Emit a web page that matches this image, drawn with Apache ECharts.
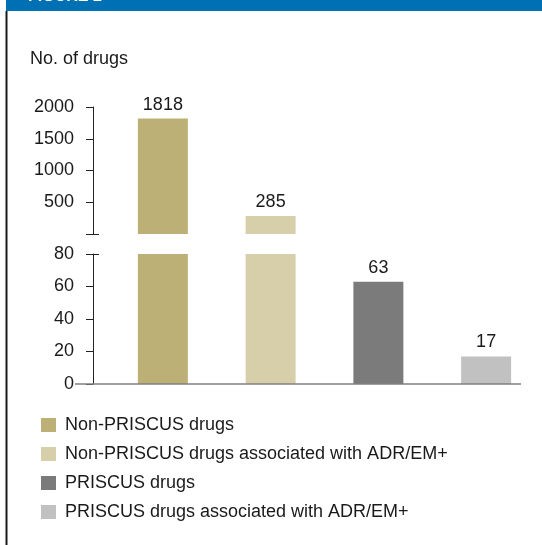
<!DOCTYPE html>
<html>
<head>
<meta charset="utf-8">
<script src="https://cdn.jsdelivr.net/npm/echarts@6/dist/echarts.min.js"></script>
<style>
  html, body { margin: 0; padding: 0; background: #fff; }
  #chart { width: 542px; height: 545px; }
</style>
</head>
<body>
<div id="chart"></div>
<script>
// categories and counts
var categories = [
    'Non-PRISCUS drugs',
    'Non-PRISCUS drugs associated with ADR/EM+',
    'PRISCUS drugs',
    'PRISCUS drugs associated with ADR/EM+'
];
var drugCounts = [1818, 285, 63, 17];

// broken y axis: upper part 0..2000, lower part 0..80
var upperRange = [0, 2000, 500];
var lowerRange = [0, 80, 20];

var barColors = ['#bdb077', '#d7cfaa', '#7b7b7b', '#c1c1c1'];
var fontName = '"Liberation Sans", Arial, sans-serif';

var chart = echarts.init(document.getElementById('chart'), null, { renderer: 'canvas' });

var axisText = { color: '#1a1a1a', fontSize: 18, fontFamily: fontName };

var makeYAxis = function (gridIndex, range, hideZero) {
    return {
        type: 'value',
        gridIndex: gridIndex,
        min: range[0],
        max: range[1],
        interval: range[2],
        offset: 16,
        axisLine: { show: true, lineStyle: { color: '#222', width: 1 } },
        axisTick: { show: true, length: 7, lineStyle: { color: '#222' } },
        splitLine: { show: false },
        axisLabel: {
            margin: 19,
            color: axisText.color,
            fontSize: axisText.fontSize,
            fontFamily: fontName,
            formatter: function (v) { return (hideZero && v === 0) ? '' : String(v); }
        }
    };
};

var series = [];
categories.forEach(function (name, i) {
    // upper panel only carries the bars that go past the break
    series.push({
        name: name,
        type: 'bar',
        xAxisIndex: 0,
        yAxisIndex: 0,
        barWidth: 50,
        barGap: '-100%',
        itemStyle: { color: barColors[i] },
        label: {
            show: true, position: 'top', distance: 5,
            color: axisText.color, fontSize: 18, fontFamily: fontName
        },
        data: drugCounts.map(function (v, j) {
            return (j === i && v > lowerRange[1]) ? v : '-';
        })
    });
    series.push({
        name: name,
        type: 'bar',
        xAxisIndex: 1,
        yAxisIndex: 1,
        barWidth: 50,
        barGap: '-100%',
        clip: true,
        itemStyle: { color: barColors[i] },
        label: {
            show: true, position: 'top', distance: 5,
            color: axisText.color, fontSize: 18, fontFamily: fontName,
            formatter: function (p) { return p.value <= lowerRange[1] ? String(p.value) : ''; }
        },
        data: drugCounts.map(function (v, j) { return j === i ? v : '-'; })
    });
});

var option = {
    animation: false,
    backgroundColor: '#fff',
    textStyle: { fontFamily: fontName },
    title: {
        text: 'No. of drugs',
        left: 30,
        top: 50,
        padding: 0,
        textStyle: { fontSize: 18, fontWeight: 'normal', color: '#1a1a1a', fontFamily: fontName }
    },
    legend: {
        orient: 'vertical',
        left: 41,
        top: 416,
        padding: 0,
        itemWidth: 15,
        itemHeight: 14,
        itemGap: 11,
        icon: 'rect',
        selectedMode: false,
        data: categories,
        textStyle: { fontSize: 18, color: '#1a1a1a', fontFamily: fontName, padding: [0, 0, 0, 4] }
    },
    grid: [
        { left: 109, right: 2, top: 107, height: 127 },
        { left: 109, right: 2, top: 254, height: 130 }
    ],
    xAxis: [
        { type: 'category', gridIndex: 0, data: categories, show: false },
        {
            type: 'category', gridIndex: 1, data: categories,
            axisLine: { show: false }, axisTick: { show: false }, axisLabel: { show: false }
        }
    ],
    yAxis: [makeYAxis(0, upperRange, true), makeYAxis(1, lowerRange, false)],
    series: series
};
chart.setOption(option);

// frame, header strip, break marks and the extended baseline
var baseY = chart.convertToPixel({ yAxisIndex: 1 }, 0);
var breakLow = chart.convertToPixel({ yAxisIndex: 0 }, upperRange[0]);
var breakHigh = chart.convertToPixel({ yAxisIndex: 1 }, lowerRange[1]);
var axisX = 109 - 16;
chart.setOption({
    graphic: [
        { type: 'rect', shape: { x: 6, y: 0, width: 536, height: 11 }, style: { fill: '#0070b4' } },
        { type: 'text', x: 28, y: 5, style: { text: 'FIGURE 2', fill: '#fff', font: 'bold 16px ' + fontName, verticalAlign: 'bottom' } },
        { type: 'rect', shape: { x: 5.5, y: 11, width: 2, height: 534 }, style: { fill: '#1a1a1a' } },
        { type: 'line', shape: { x1: axisX - 7, y1: breakLow + 0.5, x2: axisX + 6, y2: breakLow + 0.5 }, style: { stroke: '#222', lineWidth: 1 } },
        { type: 'line', shape: { x1: axisX - 7, y1: breakHigh + 0.5, x2: axisX + 6, y2: breakHigh + 0.5 }, style: { stroke: '#222', lineWidth: 1 } },
        { type: 'line', z: 10, shape: { x1: 75, y1: baseY, x2: 521, y2: baseY }, style: { stroke: '#808080', lineWidth: 1.5 } }
    ]
});
</script>
</body>
</html>
